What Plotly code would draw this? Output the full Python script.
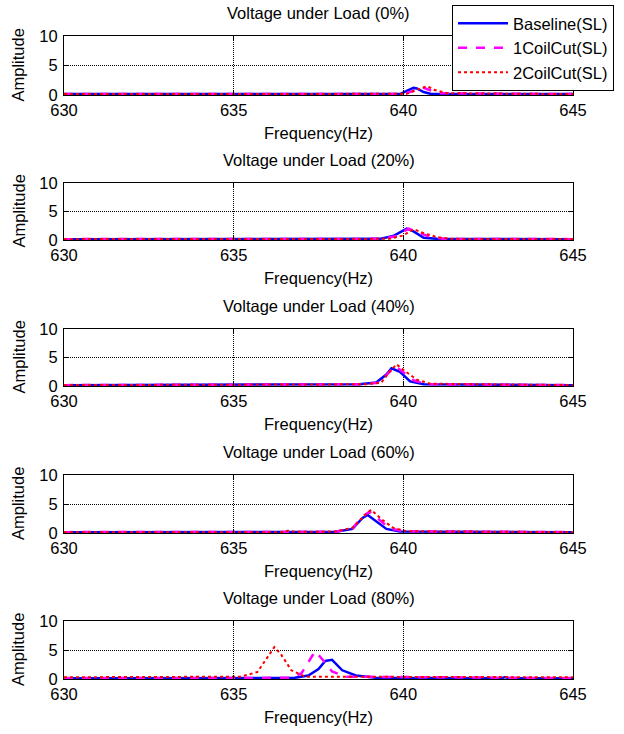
import plotly.graph_objects as go

W, H = 624, 734

loads = ["0%", "20%", "40%", "60%", "80%"]
series_names = ["Baseline(SL)", "1CoilCut(SL)", "2CoilCut(SL)"]

# Panel 0%
base_f0 = [630, 639.9, 640.1, 640.3, 640.4, 640.6, 640.8, 645]
base_a0 = [0.15, 0.15, 0.7, 1.2, 1.1, 0.5, 0.2, 0.15]
c1_f0 = [630, 640.0, 640.3, 640.55, 640.8, 641.1, 645]
c1_a0 = [0.15, 0.15, 0.7, 1.3, 0.8, 0.3, 0.15]
c2_f0 = [630, 640.1, 640.4, 640.7, 640.9, 641.3, 645]
c2_a0 = [0.15, 0.2, 0.9, 1.5, 0.9, 0.3, 0.15]

# Panel 20%
base_f1 = [630, 639.3, 639.7, 640.1, 640.3, 640.6, 641.0, 645]
base_a1 = [0.15, 0.2, 0.7, 2.0, 1.5, 0.4, 0.2, 0.15]
c1_f1 = [630, 639.4, 639.8, 640.15, 640.4, 640.8, 641.2, 645]
c1_a1 = [0.15, 0.2, 0.7, 2.0, 1.4, 0.5, 0.2, 0.15]
c2_f1 = [630, 639.6, 640.0, 640.3, 640.6, 641.0, 641.4, 645]
c2_a1 = [0.15, 0.2, 0.8, 1.9, 1.2, 0.5, 0.2, 0.15]

# Panel 40%
base_f2 = [630, 638.7, 639.2, 639.5, 639.65, 639.9, 640.2, 640.6, 645]
base_a2 = [0.15, 0.3, 0.6, 2.0, 3.1, 2.5, 0.8, 0.3, 0.15]
c1_f2 = [630, 638.8, 639.3, 639.55, 639.75, 640.0, 640.3, 640.7, 645]
c1_a2 = [0.15, 0.3, 0.6, 2.2, 3.5, 2.4, 1.0, 0.3, 0.15]
c2_f2 = [630, 638.9, 639.35, 639.6, 639.8, 640.05, 640.4, 640.8, 645]
c2_a2 = [0.15, 0.3, 0.6, 2.5, 3.8, 2.6, 1.1, 0.4, 0.15]

# Panel 60%
base_f3 = [630, 638.0, 638.5, 638.8, 638.95, 639.2, 639.5, 639.9, 645]
base_a3 = [0.15, 0.2, 0.7, 2.6, 3.1, 2.0, 0.7, 0.25, 0.15]
c1_f3 = [630, 638.0, 638.5, 638.8, 639.0, 639.3, 639.6, 640.0, 645]
c1_a3 = [0.15, 0.2, 0.8, 2.8, 3.7, 2.2, 0.8, 0.3, 0.15]
c2_f3 = [630, 636.4, 636.6, 636.8, 638.0, 638.5, 638.85, 639.05, 639.35, 639.7, 640.1, 645]
c2_a3 = [0.15, 0.15, 0.4, 0.2, 0.25, 0.9, 3.0, 4.0, 2.4, 0.9, 0.3, 0.15]

# Panel 80%
base_f4 = [630, 636.8, 637.2, 637.5, 637.7, 637.9, 638.2, 638.6, 639.2, 642.9, 643.0, 643.1, 645]
base_a4 = [0.15, 0.2, 0.6, 1.7, 3.1, 3.3, 1.5, 0.6, 0.2, 0.15, 0.35, 0.15, 0.15]
c1_f4 = [630, 636.7, 637.0, 637.2, 637.4, 637.6, 637.9, 638.3, 645]
c1_a4 = [0.15, 0.2, 1.0, 3.0, 4.8, 3.5, 1.3, 0.4, 0.15]
c2_f4 = [630, 635.2, 635.7, 636.0, 636.2, 636.4, 636.7, 637.1, 645]
c2_a4 = [0.3, 0.4, 1.2, 3.8, 5.5, 4.2, 1.5, 0.4, 0.3]

panels = [
    [(base_f0, base_a0), (c1_f0, c1_a0), (c2_f0, c2_a0)],
    [(base_f1, base_a1), (c1_f1, c1_a1), (c2_f1, c2_a1)],
    [(base_f2, base_a2), (c1_f2, c1_a2), (c2_f2, c2_a2)],
    [(base_f3, base_a3), (c1_f3, c1_a3), (c2_f3, c2_a3)],
    [(base_f4, base_a4), (c1_f4, c1_a4), (c2_f4, c2_a4)],
]

x_ticks = [630, 635, 640, 645]
y_ticks = [0, 5, 10]

styles = [
    dict(color="#0000FF", width=2.5, dash="solid"),
    dict(color="#FF00FF", width=2.5, dash="dash"),
    dict(color="#FF0000", width=2, dash="dot"),
]

# layout geometry in pixels
x_left, x_right = 64, 573
panel_px = [(36, 95), (183, 240), (329, 386), (475, 533), (621, 679)]

FONT = "Liberation Sans, Arial, sans-serif"
FS = 16.5

fig = go.Figure()
annotations = []
for i, (top, bot) in enumerate(panel_px):
    ax = "" if i == 0 else str(i + 1)
    for j, (f, a) in enumerate(panels[i]):
        fig.add_trace(go.Scatter(
            x=f, y=a, mode="lines", name=series_names[j],
            line=styles[j], showlegend=(i == 0),
            xaxis="x" + ax, yaxis="y" + ax,
        ))
    common = dict(showline=True, mirror="ticks", linecolor="black", linewidth=1,
                  ticks="inside", ticklen=4, tickcolor="black",
                  showgrid=True, gridcolor="black", griddash="1px,1px", gridwidth=1,
                  zeroline=False, automargin=False,
                  tickfont=dict(family=FONT, size=FS, color="black"))
    fig.layout["xaxis" + ax] = dict(
        domain=[x_left / W, x_right / W], anchor="y" + ax,
        range=[630, 645], tickvals=x_ticks, ticktext=[str(t) for t in x_ticks],
        ticklabelstandoff=0, **common)
    fig.layout["yaxis" + ax] = dict(
        domain=[1 - bot / H, 1 - top / H], anchor="x" + ax,
        range=[0, 10], tickvals=y_ticks, ticktext=[str(t) for t in y_ticks],
        ticklabelstandoff=2, **common)
    annotations.append(dict(text=f"Voltage under Load ({loads[i]})", x=(x_left + x_right) / 2 / W,
                            y=1 - (top - 23) / H, xref="paper", yref="paper",
                            showarrow=False, font=dict(family=FONT, size=FS, color="black"),
                            xanchor="center", yanchor="middle"))
    annotations.append(dict(text="Frequency(Hz)", x=(x_left + x_right) / 2 / W,
                            y=1 - (bot + 38) / H, xref="paper", yref="paper",
                            showarrow=False, font=dict(family=FONT, size=FS, color="black"),
                            xanchor="center", yanchor="middle"))
    annotations.append(dict(text="Amplitude", x=18 / W, y=1 - (top + bot) / 2 / H,
                            xref="paper", yref="paper", textangle=-90,
                            showarrow=False, font=dict(family=FONT, size=FS, color="black"),
                            xanchor="center", yanchor="middle"))

fig.update_layout(
    width=W, height=H,
    margin=dict(l=0, r=0, t=0, b=0, autoexpand=False),
    paper_bgcolor="white", plot_bgcolor="white",
    annotations=annotations,
    showlegend=True,
    legend=dict(x=452 / W, y=1 - 5 / H, xanchor="left", yanchor="top",
                bgcolor="white", bordercolor="black", borderwidth=1,
                font=dict(family=FONT, size=FS, color="black"),
                tracegroupgap=0, itemwidth=50),
)

fig.write_html("out.html", config={"displayModeBar": False},
               post_script="document.body.style.margin='0';document.body.style.overflow='hidden';")
